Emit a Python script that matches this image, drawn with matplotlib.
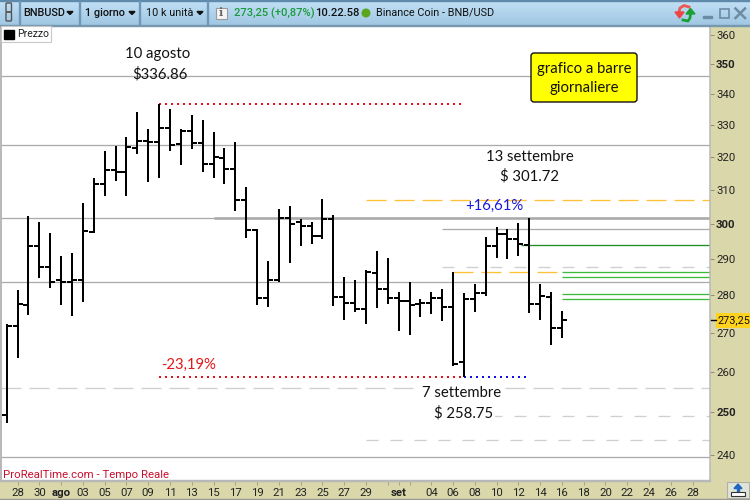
import numpy as np
import matplotlib
matplotlib.use("Agg")
import matplotlib.pyplot as plt
from matplotlib.patches import Rectangle, FancyBboxPatch, Polygon, Circle

# ---------- data ----------
opens = [249.3,271.7,277.3,293.7,287.7,284.1,283.6,284.0,297.6,311.7,316.0,315.4,322.8,325.0,324.7,329.0,324.0,328.1,324.4,317.8,
         319.6,316.3,306.9,298.2,279.2,284.0,301.8,300.4,299.2,296.5,301.4,279.6,277.8,276.4,286.0,281.7,279.2,278.4,277.6,277.8,
         279.2,276.8,262.5,279.0,280.6,293.6,297.0,295.6,294.0,277.6,279.6,271.2]
highs = [272.3,281.4,302.3,300.5,297.3,290.8,291.6,306.0,313.5,321.8,323.4,326.2,334.2,328.7,336.86,335.1,328.7,333.2,331.6,327.8,
         322.8,324.7,310.8,298.5,289.4,304.3,305.2,301.4,300.5,307.2,302.6,285.0,284.1,286.9,292.2,290.2,280.9,283.6,279.0,280.9,
         281.7,286.4,280.6,283.0,296.2,299.1,298.5,300.2,301.72,283.0,280.9,275.7]
lows = [247.5,263.6,274.6,284.7,282.0,277.3,274.4,278.2,297.2,308.1,312.6,308.1,320.9,312.3,313.5,321.8,317.5,322.4,315.4,313.5,
        311.7,303.7,295.9,277.4,276.9,283.7,288.9,293.7,294.2,295.6,277.1,273.3,275.5,272.3,276.5,277.6,270.4,269.4,274.1,274.9,
        273.0,261.5,258.75,275.5,279.8,290.2,290.0,290.8,275.2,273.3,266.8,268.6]
closes = [271.7,277.6,293.7,287.7,283.6,283.6,284.1,297.9,311.7,316.0,315.4,323.1,325.0,324.7,329.0,323.8,328.1,324.4,317.8,320.0,
          316.3,306.9,298.2,279.2,284.0,301.8,300.0,299.2,296.5,301.4,279.6,277.8,276.4,286.3,281.7,279.2,278.4,277.3,277.8,279.2,
          276.8,262.0,279.0,280.6,293.6,297.0,295.6,294.2,277.6,279.8,271.2,273.25]

y_ticks = [240,250,260,270,280,290,300,310,320,330,340,350,360]
x_tick_pos = [1,3,5,7,9,11,13,15,17,19,21,23,25,27,29,31,33,35,36,37,39,41,43,45,47,49,51,53,55,57,59,61,63]
x_tick_lab = ['28','30','ago','03','05','07','09','11','13','15','17','19','21','23','25','27','29','','set','',
              '04','06','08','10','12','14','16','18','20','22','24','26','28']

gray_levels = [346.0,323.6,301.8,283.7,239.4]
thick_level = 301.8
thin_level = 298.6
last_close = 273.25
peak = 336.86
trough = 258.75

plt.rcParams['font.family'] = ['Roboto','DejaVu Sans']
W,H = 750,500
band = '#DAD8AB'
fig = plt.figure(figsize=(7.5,5),dpi=100,facecolor=band)
ax = fig.add_axes([1/W,1-480.5/H,709/W,(480.5-25.5)/H],facecolor='white')
ax.set_yscale('log')
ax.set_ylim(234.1,363.3)
ax.set_xlim(-0.52,64.6)
px = 0.72

# levels
XR = 64.6; XL = -0.52
ax.hlines(gray_levels,XL,XR,color='#ababab',lw=1.3*px,zorder=1)
ax.hlines([thick_level],19,XR,color='#ababab',lw=2.6*px,zorder=1)
ax.hlines([thin_level],40,XR,color='#ababab',lw=1.3*px,zorder=1)
def dash(level,x0,x1,color,on,off,lw=1.3):
    return ax.hlines([level],x0,x1,color=color,lw=lw*px,zorder=1,linestyles=[(0,(on/lw,off/lw))])
dash(255.9,XL,XR,'#cfcfcf',20,8)
dash(249.1,40,XR,'#cfcfcf',12,12)
dash(243.5,33,XR,'#cfcfcf',12,12)
dash(287.6,40,XR,'#cfcfcf',12,12)
dash(306.9,33,XR,'#FFC134',20,8)
dash(286.3,41,50.6,'#FFC134',20,8)
ax.hlines([293.9],47.2,XR,color='#1e8c1e',lw=1.3*px,zorder=1)
ax.hlines([286.3,285.0,280.3,279.0],51,XR,color='#3cba3c',lw=1.3*px,zorder=1)
for lev,x0,x1,c in [(peak,14,41.8,'#e0101c'),(trough,14,42,'#e0101c'),(trough,42,47.7,'#1010e0')]:
    ax.hlines([lev],x0,x1,color=c,lw=2*px,linestyles=[(0,(1,2))],zorder=2)

# bars
idx = np.arange(len(closes))
stems = ax.vlines(idx,lows,highs,color='black',lw=2*px,zorder=3)
o_ticks = ax.hlines(opens,idx-0.46,idx,color='black',lw=2*px,zorder=3)
c_ticks = ax.hlines(closes,idx,idx+0.46,color='black',lw=2*px,zorder=3)
for coll in (stems,o_ticks,c_ticks):
    coll.set_snap(True)
    coll.set_capstyle('butt')

# axes decoration
for s in ['top','bottom']:
    ax.spines[s].set_visible(False)
ax.spines['left'].set_color('#b8b8b8'); ax.spines['left'].set_linewidth(2*px)
ax.spines['right'].set_color('#b8b8b8'); ax.spines['right'].set_linewidth(1.5*px)
ax.yaxis.tick_right()
ax.set_yticks(y_ticks)
ax.set_yticklabels([str(v) for v in y_ticks])
ax.minorticks_off()
ax.tick_params(axis='y',length=4*px,width=0.7,color='#8c8c7a',labelsize=8.2,pad=1.5,labelcolor='#222222')
ax.set_xticks(x_tick_pos)
ax.set_xticklabels(x_tick_lab)
ax.tick_params(axis='x',direction='out',length=4*px,width=0.7,color='#a5a590',labelsize=8.2,pad=2.5,labelcolor='#222222')
for t in ax.get_xticklabels():
    if t.get_text() in ('ago','set'):
        t.set_fontweight('bold')
for t in ax.get_yticklabels():
    if t.get_text() in ('300','350','250'):
        t.set_fontweight('bold')

# overlay in pixel coordinates: window frame, notes
ov = fig.add_axes([0,0,1,1],facecolor='none')
s = np.linspace(0,1,26)[:,None,None]
grad = s*np.array([[[0x9F,0xC6,0xE2]]])/255+(1-s)*np.array([[[0xC2,0xE1,0xF6]]])/255
ov.imshow(grad,extent=(0,750,26,0),aspect='auto',zorder=1)
ov.set_xlim(0,750); ov.set_ylim(500,0); ov.axis('off')
ov.add_patch(Rectangle((0,0),750,1,color='#5f8aab',zorder=2))
ov.add_patch(Rectangle((0,24.8),750,1.2,color='#7898b0',zorder=2))
for x in [18.5,79,139,207]:
    ov.add_patch(Rectangle((x,1),1,24,color='#6f97b7',zorder=2))
ov.add_patch(FancyBboxPatch((7,4),3.5,7,boxstyle='round,pad=1',fc='none',ec='#555555',lw=1,zorder=3))
ov.add_patch(FancyBboxPatch((7,13),3.5,7,boxstyle='round,pad=1',fc='none',ec='#555555',lw=1,zorder=3))
for x,txt,w in [(23,'BNBUSD','medium'),(85,'1 giorno','medium'),(145.5,'10 k unità','normal')]:
    ov.text(x,13,txt,fontsize=7.8,va='center',ha='left',fontweight=w,color='#111111',zorder=4)
for x in [70,132,200]:
    ov.add_patch(Polygon([(x-3,11.5),(x+3,11.5),(x,14.5)],color='#111111',zorder=4))
ov.add_patch(Rectangle((215.5,7.5),11,11,fc='#f4f4f4',ec='#9a9a9a',lw=0.8,zorder=3))
ov.text(221,13,'i',fontsize=8,ha='center',va='center',color='#666666',fontweight='bold',zorder=4,family='DejaVu Serif')
ov.text(234,13,'273,25 (+0,87%)',fontsize=8,va='center',color='#1c9a3c',fontweight='medium',zorder=4)
ov.text(315.5,13,'10.22.58',fontsize=8,va='center',color='#111111',fontweight='medium',zorder=4)
ov.add_patch(Circle((366,13),3.8,color='#5aa51e',zorder=4))
ov.text(375.5,13,'Binance Coin - BNB/USD',fontsize=7.8,va='center',color='#111111',zorder=4)
# refresh icon
ov.plot([689,684,680,679],[7,5.5,8,12],color='#ee5555',lw=2,zorder=4)
ov.add_patch(Polygon([(675,12),(684,12),(679.5,18)],color='#ee4444',zorder=4))
ov.plot([683,688,690,690.5],[20,21,18,14],color='#18a030',lw=2,zorder=5)
ov.add_patch(Polygon([(686,14),(695,14),(690.5,8.5)],color='#18a030',zorder=5))
ov.add_patch(Rectangle((703,16),9,2,color='#6d8ba3',zorder=4))
ov.add_patch(Rectangle((719.5,8.5),9.5,9.5,fc='none',ec='#6d8ba3',lw=1.2,zorder=4))
ov.plot([735.5,745],[8.5,18],color='#6d8ba3',lw=1.8,zorder=4)
ov.plot([735.5,745],[18,8.5],color='#6d8ba3',lw=1.8,zorder=4)

# legend box
ov.add_patch(Rectangle((0.5,26),50,16,fc='white',ec='#c8c8c8',lw=0.8,zorder=3))
ov.add_patch(Rectangle((4,29.5),10,9.5,color='black',zorder=4))
ov.text(17,34,'Prezzo',fontsize=7.5,va='center',color='#222222',zorder=4)

# notes
nfont = dict(family=['Lato','DejaVu Sans'],fontsize=10.7,ha='center',va='center',color='#111111',zorder=5)
ov.text(158,54,'10 agosto',**nfont)
ov.text(160,74,'$336.86',**nfont)
ov.text(530,157,'13 settembre',**nfont)
ov.text(530,176,'$ 301.72',**nfont)
bb = dict(boxstyle='square,pad=0.1',fc='white',ec='none')
ov.text(462,393,'7 settembre',bbox=bb,**nfont)
ov.text(464,413,'$ 258.75',bbox=bb,**nfont)
red = dict(nfont); red['color']='#e01818'
blue = dict(nfont); blue['color']='#1818e0'
ov.text(188.5,365,'-23,19%',**red)
ov.text(494,206,'+16,61%',**blue)
ov.add_patch(FancyBboxPatch((533,55),102,45,boxstyle='round,pad=2,rounding_size=3',fc='#FFFF00',ec='#111111',lw=1,zorder=4))
ov.text(584,69,'grafico a barre',**nfont)
ov.text(584,88,'giornaliere',**nfont)

# price tag
ov.add_patch(Rectangle((716,313),34,15,fc='#FFD21E',ec='none',zorder=4))
ov.plot([711,716],[320,320],color='black',lw=1,zorder=4)
ov.text(717,320.5,'273,25',fontsize=7.8,va='center',color='#111111',zorder=5)

# watermark, bottom strip
ov.text(3,475,'ProRealTime.com - Tempo Reale',fontsize=8.2,va='center',color='#c8102e',zorder=5)
ov.add_patch(Rectangle((0,498.5),750,1.5,color='#9a9a90',zorder=3))
ov.add_patch(Rectangle((0,480),710,1,color='#b8b8b8',zorder=3))
ov.add_patch(Rectangle((727,482),22,16,fc='#dfe3d8',ec='#b0b0a8',lw=0.8,zorder=3))
ov.add_patch(Polygon([(738,484),(742,488.5),(734,488.5)],color='#1f66c0',zorder=4))
ov.add_patch(Rectangle((737,488),2,3,color='#1f66c0',zorder=4))
ov.add_patch(Rectangle((731,491.5),14,4,fc='white',ec='#333333',lw=0.8,zorder=4))

fig.savefig('out.png',dpi=100,facecolor=band)
